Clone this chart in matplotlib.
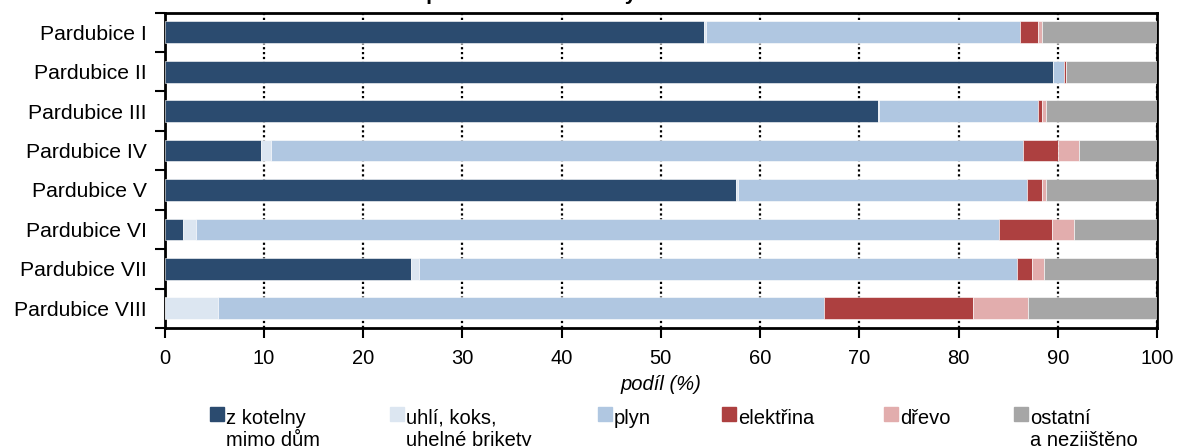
import matplotlib
matplotlib.use("Agg")
import matplotlib.pyplot as plt
import numpy as np
from matplotlib.patches import Rectangle

plt.rcParams['font.family'] = ['Liberation Sans', 'DejaVu Sans']

# ---- data ----
categories = ["Pardubice I", "Pardubice II", "Pardubice III", "Pardubice IV",
              "Pardubice V", "Pardubice VI", "Pardubice VII", "Pardubice VIII"]
series_names = ["z kotelny\nmimo dům", "uhlí, koks,\nuhelné brikety", "plyn",
                "elektřina", "dřevo", "ostatní\na nezjištěno"]
kotelna = [54.35, 89.55, 71.9, 9.7, 57.55, 1.8, 24.8, 0.0]
uhli = [0.2, 0.0, 0.05, 1.05, 0.25, 1.4, 0.8, 5.4]
plyn = [31.65, 1.05, 16.1, 75.7, 29.05, 80.85, 60.25, 61.0]
elektrina = [1.8, 0.2, 0.35, 3.55, 1.55, 5.35, 1.55, 15.05]
drevo = [0.4, 0.0, 0.45, 2.15, 0.45, 2.2, 1.2, 5.6]
ostatni = [11.6, 9.2, 11.15, 7.85, 11.15, 8.4, 11.4, 12.95]
x_ticks = [0, 10, 20, 30, 40, 50, 60, 70, 80, 90, 100]
x_label = "podíl (%)"
title = "Topná média v městských obvodech"

colors = ["#2B4B6F", "#DCE6F1", "#B0C7E1", "#AD4040", "#E2ADAD", "#A6A6A6"]
series = [kotelna, uhli, plyn, elektrina, drevo, ostatni]

FS = 14.5

# ---- figure ----
W, H = 1179, 446
fig = plt.figure(figsize=(W / 100, H / 100), dpi=100)
ax = fig.add_axes([164.7 / W, 1 - 328 / H, (1157 - 164.7) / W, (328 - 12.5) / H])

y = np.arange(len(categories))
left = np.zeros(len(categories))
for vals, col in zip(series, colors):
    v = np.array(vals)
    ax.barh(y, v, left=left, height=0.55, color=col, edgecolor="white",
            linewidth=0.4, zorder=3)
    left += v

ax.set_xlim(0, 100)
ax.set_ylim(len(categories) - 0.5, -0.5)
ax.set_xticks(x_ticks)
ax.set_xticklabels([str(t) for t in x_ticks], fontsize=FS)
ax.set_yticks(y)
ax.set_yticklabels(categories, fontsize=15.2)
ax.tick_params(axis="y", which="major", length=0, pad=13)
ax.set_yticks(np.arange(len(categories) + 1) - 0.5, minor=True)
ax.tick_params(axis="y", which="minor", length=7, width=1.5, direction="out")
ax.tick_params(axis="x", which="major", length=7, width=1.5, direction="out", pad=8)

ax.xaxis.grid(True, linestyle=(0, (1, 1.2)), color="black", linewidth=1.6, zorder=0)
ax.set_axisbelow(True)
for s in ax.spines.values():
    s.set_linewidth(2)
    s.set_color("black")

ax.set_xlabel(x_label, fontsize=FS, style="italic", labelpad=5)

# title (cropped at the top, as in the source image: only descenders visible)
fig.text(584 / W, 1 + 0.5 / H, title, ha="center", va="baseline",
         fontsize=15, fontweight="bold")

# ---- manual legend ----
leg_x = [210, 390, 598, 722, 884, 1014]
for xp, name, col in zip(leg_x, series_names, colors):
    fig.patches.append(Rectangle((xp / W, 1 - 421 / H), 14 / W, 14 / H,
                                 transform=fig.transFigure, color=col,
                                 figure=fig))
    for i, line in enumerate(name.split("\n")):
        fig.text((xp + 16) / W, 1 - (424 + 22 * i) / H, line, ha="left",
                 va="baseline", fontsize=FS)

fig.savefig("out.png", dpi=100)
